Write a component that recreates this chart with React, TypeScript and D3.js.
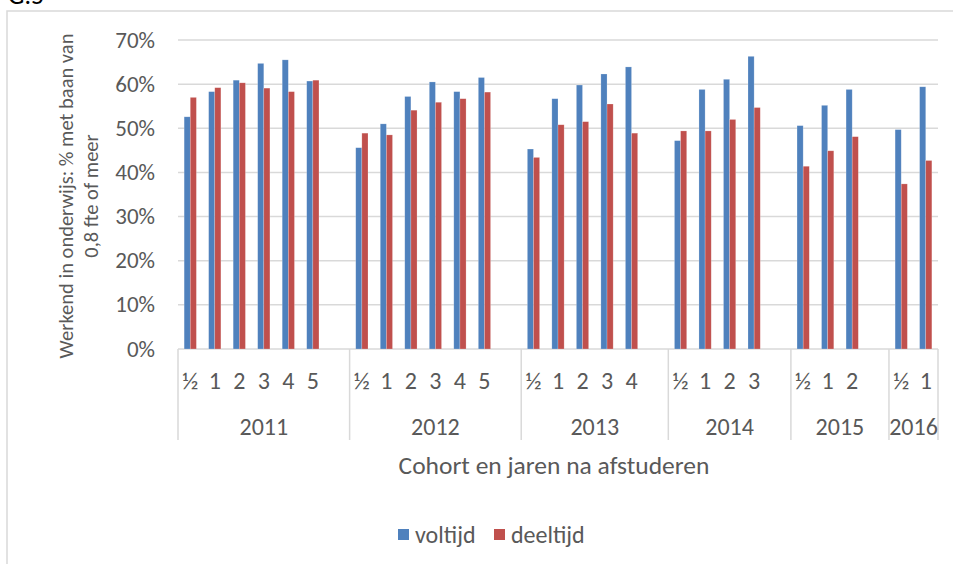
import * as d3 from "d3";

const cohorts = ["2011", "2012", "2013", "2014", "2015", "2016"];
const yearsAfter = [
  ["½", "1", "2", "3", "4", "5"],
  ["½", "1", "2", "3", "4", "5"],
  ["½", "1", "2", "3", "4"],
  ["½", "1", "2", "3"],
  ["½", "1", "2"],
  ["½", "1"],
];
const voltijd = [
  [52.6, 58.3, 60.9, 64.7, 65.5, 60.7],
  [45.6, 51.0, 57.2, 60.5, 58.3, 61.5],
  [45.3, 56.7, 59.8, 62.3, 63.9],
  [47.2, 58.8, 61.1, 66.3],
  [50.6, 55.2, 58.8],
  [49.7, 59.4],
];
const deeltijd = [
  [57.0, 59.2, 60.3, 59.1, 58.3, 60.9],
  [48.9, 48.5, 54.1, 55.9, 56.7, 58.2],
  [43.4, 50.8, 51.5, 55.5, 48.9],
  [49.4, 49.4, 52.0, 54.7],
  [41.4, 44.9, 48.1],
  [37.4, 42.7],
];
const yTicks = [0, 10, 20, 30, 40, 50, 60, 70];
const seriesNames = ["voltijd", "deeltijd"];
const seriesColors = ["#4F81BD", "#C0504D"];

const W = 953;
const H = 564;
const plot = { left: 178, right: 938, top: 40, bottom: 349 };
const font = "Carlito, 'Liberation Sans', Arial, sans-serif";
const textColor = "#595959";
const gridColor = "#d9d9d9";
const fs = 24;

// slots: every cohort's categories followed by one empty slot (except the last)
type Slot = { id: string; g: number; i: number; blank: boolean };
const slots: Slot[] = [];
cohorts.forEach((c, g) => {
  yearsAfter[g].forEach((_, i) => slots.push({ id: `${c}-${i}`, g, i, blank: false }));
  if (g < cohorts.length - 1) slots.push({ id: `${c}-blank`, g, i: -1, blank: true });
});

export default function App() {
  const x = d3
    .scaleBand<string>()
    .domain(slots.map((s) => s.id))
    .range([plot.left, plot.right])
    .padding(0);
  const x1 = d3
    .scaleBand<string>()
    .domain(seriesNames)
    .range([0, x.bandwidth()])
    .paddingInner(0)
    .paddingOuter(1);
  const y = d3.scaleLinear().domain([0, 70]).range([plot.bottom, plot.top]);

  const groupEdges = cohorts.map((c, g) => {
    const own = slots.filter((s) => s.g === g);
    const x0 = x(own[0].id) as number;
    const xEnd = (x(own[own.length - 1].id) as number) + x.bandwidth();
    return { c, x0, xEnd };
  });

  const realSlots = slots.filter((s) => !s.blank);

  return (
    <svg
      width={W}
      height={H}
      style={{ position: "absolute", left: 0, top: 0, background: "#fff" }}
      fontFamily={font}
    >
      <text x={8} y={4} fontSize={26} fill="#000">
        G.5
      </text>
      <rect x={7} y={11} width={W + 20} height={H + 20} fill="#fff" stroke={gridColor} strokeWidth={1.5} />

      {/* gridlines + y labels */}
      {yTicks.map((t) => (
        <g key={t}>
          <line x1={plot.left} x2={plot.right} y1={y(t)} y2={y(t)} stroke={gridColor} strokeWidth={1.5} />
          <text x={155} y={y(t)} dy="0.33em" textAnchor="end" fontSize={23} fill={textColor}>
            {t}%
          </text>
        </g>
      ))}

      {/* bars */}
      {realSlots.map((s) =>
        [voltijd, deeltijd].map((ser, k) => {
          const v = ser[s.g][s.i];
          return (
            <rect
              key={s.id + k}
              x={(x(s.id) as number) + (x1(seriesNames[k]) as number)}
              y={y(v)}
              width={x1.bandwidth()}
              height={y(0) - y(v)}
              fill={seriesColors[k]}
              stroke="#fff"
              strokeOpacity={0.35}
              strokeWidth={0.6}
            />
          );
        })
      )}

      {/* multi-level category axis */}
      {groupEdges.map((e, g) => (
        <g key={e.c}>
          <line x1={e.x0} x2={e.x0} y1={plot.bottom} y2={440} stroke={gridColor} strokeWidth={1.5} />
          {g === groupEdges.length - 1 && (
            <line x1={e.xEnd} x2={e.xEnd} y1={plot.bottom} y2={440} stroke={gridColor} strokeWidth={1.5} />
          )}
          <text x={(e.x0 + e.xEnd) / 2} y={435} textAnchor="middle" fontSize={fs} fill={textColor}>
            {e.c}
          </text>
        </g>
      ))}
      {realSlots.map((s) => (
        <text
          key={"l" + s.id}
          x={(x(s.id) as number) + x.bandwidth() / 2}
          y={389}
          textAnchor="middle"
          fontSize={fs}
          fill={textColor}
        >
          {yearsAfter[s.g][s.i]}
        </text>
      ))}

      {/* axis titles */}
      <text x={554} y={474} textAnchor="middle" fontSize={25.5} fill={textColor}>
        Cohort en jaren na afstuderen
      </text>
      <g transform="translate(66,196) rotate(-90)">
        <text x={0} y={0} dy="0.33em" textAnchor="middle" fontSize={20.5} fill={textColor}>
          Werkend in onderwijs: % met baan van
        </text>
        <text x={0} y={25} dy="0.33em" textAnchor="middle" fontSize={20.5} fill={textColor}>
          0,8 fte of meer
        </text>
      </g>

      {/* legend */}
      {seriesNames.map((n, k) => {
        const lx = k === 0 ? 398 : 494;
        return (
          <g key={n}>
            <rect x={lx} y={529} width={11} height={11} fill={seriesColors[k]} />
            <text x={lx + 17} y={535} dy="0.33em" fontSize={fs} fill={textColor}>
              {n}
            </text>
          </g>
        );
      })}
    </svg>
  );
}
